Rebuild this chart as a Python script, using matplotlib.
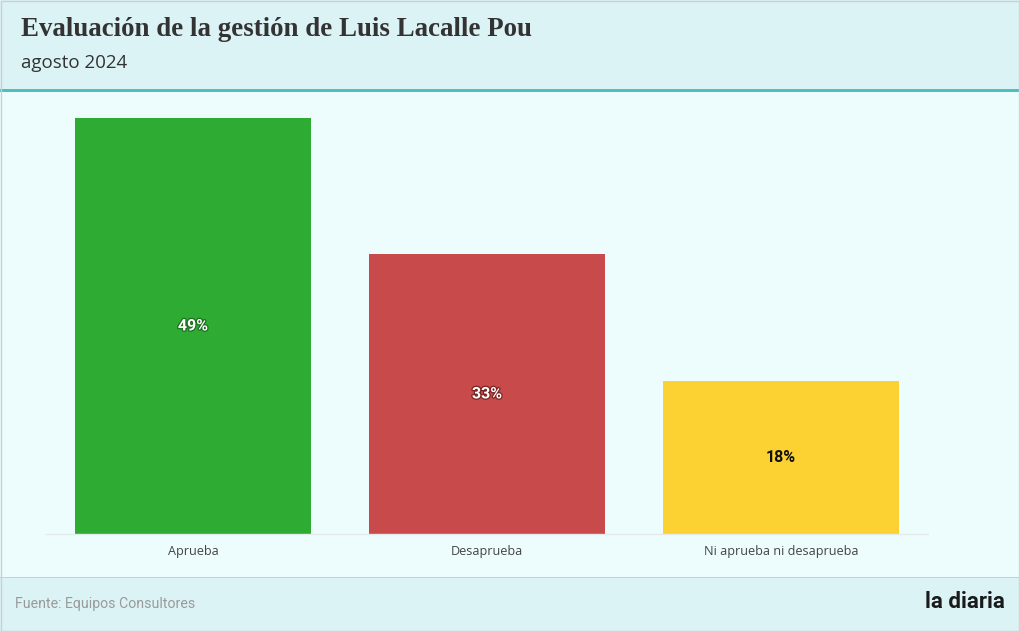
import matplotlib
matplotlib.use("Agg")
import matplotlib.pyplot as plt
import matplotlib.patheffects as pe
from matplotlib.patches import Rectangle

categories = ["Aprueba", "Desaprueba", "Ni aprueba ni desaprueba"]
values = [49, 33, 18]
value_labels = ["49%", "33%", "18%"]
colors = ["#2eab33", "#c94a4a", "#fcd232"]
label_colors = ["white", "white", "#111111"]
stroke_colors = ["#1d6e20", "#7a2424", None]

title = "Evaluación de la gestión de Luis Lacalle Pou"
subtitle = "agosto 2024"
source = "Fuente: Equipos Consultores"
brand = "la diaria"

W, H = 1020, 631
fig = plt.figure(figsize=(W / 100, H / 100), dpi=100)
fig.patch.set_facecolor("#edfdfd")

def box(x0, y0, x1, y1, **kw):
    fig.add_artist(Rectangle((x0 / W, 1 - y1 / H), (x1 - x0) / W, (y1 - y0) / H,
                             transform=fig.transFigure, **kw))

# header
box(0, 0, W, 89, facecolor="#dcf3f6", edgecolor="none")
box(0, 89, W, 92, facecolor="#4dbec2", edgecolor="none")
# footer
box(0, 577, W, H, facecolor="#dcf3f6", edgecolor="none")
box(0, 576.5, W, 577.5, facecolor="#c2d3d6", edgecolor="none")
# outer border
box(0.5, 0.5, W - 0.5, H - 0.5, facecolor="none", edgecolor="#c8d0d2", linewidth=1)

fig.text(21 / W, 1 - 30 / H, title, fontsize=19.4, fontweight="bold",
         family="Liberation Serif", color="#333333", va="center", ha="left")
fig.text(21 / W, 1 - 63 / H, subtitle, fontsize=13.5, family="Open Sans",
         color="#333333", va="center", ha="left")
fig.text(15 / W, 1 - 604 / H, source, fontsize=10.2, family="Roboto",
         color="#9a9a9a", va="center", ha="left")
fig.text(1005 / W, 1 - 602 / H, brand, fontsize=16, fontweight="bold",
         family="Roboto", color="#1a1a1a", va="center", ha="right")

ax = fig.add_axes([46 / W, 1 - 534 / H, (928 - 46) / W, (534 - 118) / H])
ax.set_facecolor("none")
x = list(range(len(categories)))
bars = ax.bar(x, values, width=0.8, color=colors)
ax.set_xlim(-0.5, len(categories) - 0.5)
ax.set_ylim(0, max(values))
for s in ["top", "right", "left"]:
    ax.spines[s].set_visible(False)
ax.spines["bottom"].set_color("#e2eaea")
ax.spines["bottom"].set_linewidth(1)
ax.set_yticks([])
ax.set_xticks(x)
ax.set_xticklabels(categories, fontsize=9.1, family="Open Sans", color="#444444")
ax.tick_params(axis="x", length=0, pad=8)

for xi, v, lab, lc, sc in zip(x, values, value_labels, label_colors, stroke_colors):
    t = ax.text(xi, v / 2, lab, ha="center", va="center", fontsize=11.5,
                fontweight="bold", family="Roboto", color=lc)
    if sc:
        t.set_path_effects([pe.withStroke(linewidth=1.8, foreground=sc)])

fig.savefig("out.png", dpi=100, facecolor=fig.get_facecolor())
